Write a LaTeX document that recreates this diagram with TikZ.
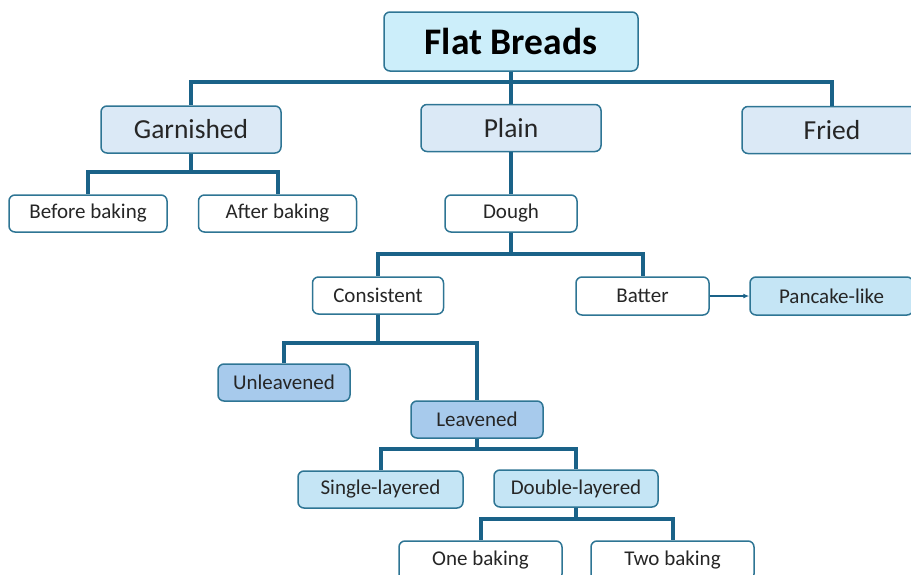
\documentclass[tikz,border=0pt]{standalone}
\usepackage{fontspec}
\setmainfont{Carlito}
\usetikzlibrary{arrows.meta}
\definecolor{linecol}{RGB}{26,98,136}
\definecolor{edgecol}{RGB}{46,117,148}
\definecolor{topfill}{RGB}{204,238,250}
\definecolor{palefill}{RGB}{219,233,246}
\definecolor{cyanfill}{RGB}{197,229,245}
\definecolor{midfill}{RGB}{167,202,236}
\begin{document}
\begin{tikzpicture}[x=1pt,y=-1pt,
  box/.style={draw=edgecol,line width=1.5pt,rounded corners=6pt,fill=white,
    font=\fontsize{21}{24}\selectfont,text=black!85,inner sep=0pt,
    minimum width=132pt,minimum height=37pt},
  topbox/.style={box,fill=topfill,font=\fontsize{37.5}{42}\selectfont\bfseries,
    text=black,minimum width=254pt,minimum height=59pt},
  mainbox/.style={box,fill=palefill,font=\fontsize{27.5}{32}\selectfont,
    minimum width=180pt,minimum height=47pt},
  tree/.style={draw=linecol,line width=4pt},
  link/.style={draw=linecol,line width=1.5pt,-{Latex[length=6pt,width=5pt]}}]
\useasboundingbox (0,0) rectangle (911,574);
% top levels
\node[topbox] (flat) at (511,41.5) {Flat Breads};
\node[mainbox] (garn) at (191,129.5) {Garnished};
\node[mainbox] (plain) at (511,128) {Plain};
\node[mainbox] (fried) at (832,130) {Fried};
% garnished side
\node[box,minimum width=158pt] (before) at (88,213.5) {Before baking};
\node[box,minimum width=158pt] (after) at (277.5,213.5) {After baking};
% plain side
\node[box] (dough) at (511,213.5) {Dough};
\node[box,minimum width=131pt] (cons) at (378,295.5) {Consistent};
\node[box,minimum width=133pt,minimum height=38pt] (batter) at (642.5,296) {Batter};
\node[box,fill=cyanfill,minimum width=163pt,minimum height=38pt] (pancake) at (831.5,296) {Pancake-like};
\node[box,fill=midfill] (unlv) at (284,382.5) {Unleavened};
\node[box,fill=midfill] (lv) at (477,419.5) {Leavened};
\node[box,fill=cyanfill,minimum width=165pt] (single) at (380.5,489.5) {Single-layered};
\node[box,fill=cyanfill,minimum width=164pt] (double) at (576,488.5) {Double-layered};
\node[box,minimum width=163pt,minimum height=39pt] (one) at (480.5,560.5) {One baking};
\node[box,minimum width=163pt,minimum height=39pt] (two) at (672.5,560.5) {Two baking};
% connectors
\coordinate (j1) at (511,82);
\coordinate (j2) at (191,172);
\coordinate (j3) at (511,254);
\coordinate (j4) at (378,343);
\coordinate (j5) at (477,449);
\coordinate (j6) at (576,519);
\draw[tree] (flat.south) -- (j1) -| (garn.north);
\draw[tree] (j1) -| (fried.north);
\draw[tree] (j1) -- (plain.north);
\draw[tree] (garn.south) -- (j2) -| (before.north);
\draw[tree] (j2) -| (after.north);
\draw[tree] (plain.south) -- (dough.north);
\draw[tree] (dough.south) -- (j3) -| (cons.north);
\draw[tree] (j3) -| (batter.north);
\draw[tree] (cons.south) -- (j4) -| (unlv.north);
\draw[tree] (j4) -| (lv.north);
\draw[tree] (lv.south) -- (j5) -| (single.north);
\draw[tree] (j5) -| (double.north);
\draw[tree] (double.south) -- (j6) -| (one.north);
\draw[tree] (j6) -| (two.north);
\draw[link] (batter.east) -- (pancake.west);
\end{tikzpicture}
\end{document}
